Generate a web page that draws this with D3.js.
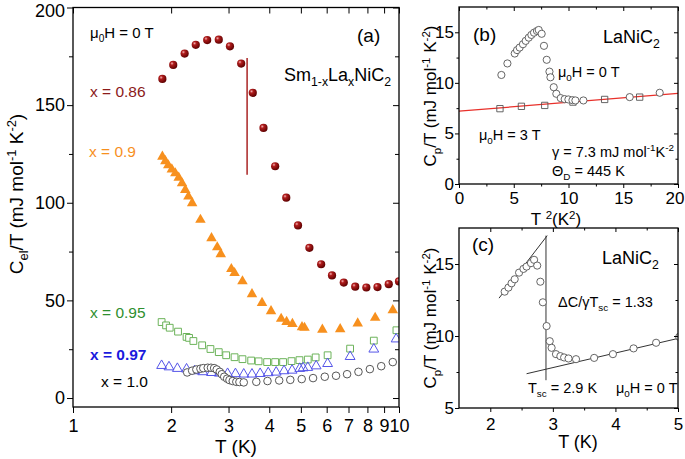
<html>
<head>
<script src="https://cdnjs.cloudflare.com/ajax/libs/d3/7.8.5/d3.min.js"></script>
<style>
  body { margin: 0; background: #fff; }
  svg { font-family: Arial, "Liberation Sans", sans-serif; }
</style>
</head>
<body>
<svg width="685" height="459"></svg>
<script>
// ---- panel (a): Sm1-xLaxNiC2, Cel/T vs T (log) ----
var a086T = [1.88, 2.03, 2.20, 2.38, 2.58, 2.80, 3.03, 3.28, 3.56, 3.84, 4.17, 4.51, 4.90, 5.31, 5.77, 6.23, 6.77, 7.34, 7.94, 8.59, 9.30, 10.0];
var a086 = [163.4, 170.6, 176.4, 180.9, 183.3, 183.5, 180.1, 171.3, 156.3, 138.3, 118.7, 102.6, 88.4, 76.9, 68.5, 62.8, 59.1, 57.0, 56.6, 56.8, 58.3, 59.7];
var a09T = [1.88, 1.92, 1.96, 2.01, 2.06, 2.11, 2.16, 2.21, 2.26, 2.32, 2.46, 2.66, 2.77, 2.84, 3.06, 3.13, 3.31, 3.54, 3.80, 4.05, 4.35, 4.52, 4.71, 5.04, 5.13, 5.82, 6.60, 7.47, 8.45, 9.57];
var a09 = [124.0, 121.7, 119.6, 117.5, 115.5, 113.3, 110.4, 107.0, 103.6, 100.2, 91.7, 82.3, 77.6, 74.1, 66.5, 64.4, 60.2, 53.6, 49.1, 44.9, 41.0, 39.4, 38.4, 36.7, 36.4, 35.4, 35.7, 38.6, 41.5, 45.4];
var a095T = [1.87, 1.93, 1.98, 2.10, 2.23, 2.27, 2.34, 2.49, 2.64, 2.80, 2.95, 3.13, 3.31, 3.52, 3.71, 3.94, 4.17, 4.41, 4.68, 4.95, 5.25, 5.55, 6.04, 7.08, 8.37, 9.82];
var a095 = [38.9, 37.2, 36.0, 34.0, 31.3, 30.8, 29.2, 27.0, 25.1, 23.5, 21.9, 20.9, 19.9, 19.2, 18.8, 18.4, 18.4, 18.4, 18.9, 19.4, 19.7, 20.8, 21.9, 25.3, 29.4, 34.7];
var a097T = [1.87, 1.97, 2.09, 2.23, 2.36, 2.50, 2.66, 2.81, 2.98, 3.15, 3.34, 3.54, 3.75, 3.97, 4.20, 4.44, 4.70, 4.96, 5.08, 5.25, 5.57, 6.04, 7.08, 8.37, 9.80];
var a097 = [17.0, 16.3, 15.5, 15.2, 14.3, 13.8, 13.4, 13.1, 12.9, 12.8, 12.6, 12.6, 12.9, 13.3, 13.6, 14.3, 14.6, 15.5, 15.8, 16.0, 16.8, 18.0, 21.6, 25.4, 30.6];
var a10T = [2.24, 2.32, 2.39, 2.46, 2.51, 2.59, 2.65, 2.71, 2.76, 2.82, 2.86, 2.91, 2.97, 3.02, 3.09, 3.17, 3.24, 3.34, 3.65, 3.95, 4.29, 4.64, 5.03, 5.45, 5.92, 6.41, 6.93, 7.51, 8.14, 8.82, 9.57];
var a10 = [13.1, 14.0, 14.6, 15.0, 15.3, 15.5, 15.5, 15.3, 14.6, 13.4, 12.2, 10.9, 9.9, 9.2, 8.7, 8.3, 8.2, 8.0, 8.3, 8.7, 9.0, 9.3, 9.7, 10.2, 10.9, 11.4, 12.2, 13.4, 14.8, 16.3, 18.4];
var aMarkT = [3.42, 3.42];
var aMark = [114.3, 174.1];
var aXTicks = [1, 2, 3, 4, 5, 6, 7, 8, 9, 10];
var aYTicks = [0, 50, 100, 150, 200];

// ---- panel (b): LaNiC2, Cp/T vs T^2 ----
var b0T2 = [3.87, 4.42, 5.09, 5.30, 5.54, 5.84, 6.09, 6.37, 6.61, 6.85, 7.12, 7.28, 7.55, 7.76, 8.01, 8.26, 8.35, 8.65, 8.89, 9.29, 9.65, 9.99, 10.36, 10.63, 11.36, 15.59, 18.33];
var b0 = [10.78, 11.92, 12.90, 13.24, 13.49, 13.82, 14.15, 14.47, 14.74, 14.96, 15.13, 15.23, 14.85, 13.66, 12.28, 11.11, 10.55, 9.57, 8.92, 8.49, 8.39, 8.36, 8.29, 8.26, 8.26, 8.59, 9.02];
var b3T2 = [3.74, 5.70, 7.83, 10.41, 13.3, 16.5];
var b3 = [7.45, 7.68, 7.77, 8.10, 8.36, 8.59];
var bFitT2 = [0, 20];
var bFit = [7.2, 8.96];
var bXTicks = [0, 5, 10, 15, 20];
var bYTicks = [0, 5, 10, 15];

// ---- panel (c): LaNiC2, Cp/T vs T ----
var cT = [2.23, 2.29, 2.34, 2.39, 2.46, 2.53, 2.58, 2.65, 2.70, 2.75, 2.80, 2.84, 2.90, 2.95, 2.98, 3.05, 3.12, 3.18, 3.25, 3.37, 3.66, 3.96, 4.29, 4.65, 5.02];
var cV = [13.08, 13.36, 13.66, 13.94, 14.40, 14.66, 14.82, 15.06, 15.29, 14.89, 13.77, 12.34, 10.69, 9.64, 9.18, 8.74, 8.60, 8.51, 8.44, 8.39, 8.48, 8.74, 9.14, 9.53, 9.94];
var cScT = [2.14, 2.91];
var cSc = [12.63, 16.97];
var cNT = [2.58, 4.99];
var cN = [7.38, 9.82];
var cTscT = [2.89, 2.89];
var cTsc = [6.93, 16.97];
var cXTicks = [2, 3, 4, 5];
var cYTicks = [5, 10, 15];

var svg = d3.select("svg");
var zip = function(a, b) { return a.map(function(v, i) { return [v, b[i]]; }); };

var defs = svg.append("defs");
var grad = defs.append("radialGradient").attr("id", "sphere")
    .attr("cx", "35%").attr("cy", "32%").attr("r", "70%");
grad.append("stop").attr("offset", "0%").attr("stop-color", "#f3b3b3");
grad.append("stop").attr("offset", "30%").attr("stop-color", "#b01c1c");
grad.append("stop").attr("offset", "100%").attr("stop-color", "#5c0000");

// text with sub/superscripts: parts = [[text, "n"|"sub"|"sup"], ...]
function rich(parent, x, y, parts, size, color, anchor, weight) {
    var t = parent.append("text").attr("x", x).attr("y", y)
        .attr("font-size", size).attr("fill", color || "#000")
        .attr("text-anchor", anchor || "start")
        .attr("font-weight", weight || "normal");
    var shift = 0;
    parts.forEach(function(p) {
        var mode = p[1] || "n";
        var target = mode == "sub" ? 0.28 * size : (mode == "sup" ? -0.38 * size : 0);
        t.append("tspan").attr("dy", target - shift)
            .attr("font-size", mode == "n" ? size : size * 0.68).text(p[0]);
        shift = target;
    });
    return t;
}

function frame(x, y, id) {
    var r = x.range(), s = y.range();
    defs.append("clipPath").attr("id", id).append("rect")
        .attr("x", r[0]).attr("y", s[1]).attr("width", r[1] - r[0]).attr("height", s[0] - s[1]);
    return svg.append("g").attr("clip-path", "url(#" + id + ")");
}

function axes(x, y, o) {
    var r = x.range(), s = y.range();
    var strip = function(g) { g.select(".domain").remove(); g.selectAll("line").attr("stroke", "#000").attr("stroke-width", 1); };
    // bottom (outward) with labels
    var bx = svg.append("g").attr("transform", "translate(0," + s[0] + ")")
        .call(d3.axisBottom(x).tickValues(o.xt).tickSize(o.maj).tickPadding(o.xpad).tickFormat(d3.format("d")))
        .call(strip).attr("font-size", o.fs).attr("font-family", null);
    svg.append("g").attr("transform", "translate(0," + s[0] + ")")
        .call(d3.axisBottom(x).tickValues(o.xm).tickSize(o.min).tickFormat("")).call(strip);
    // top (inward)
    svg.append("g").attr("transform", "translate(0," + s[1] + ")")
        .call(d3.axisBottom(x).tickValues(o.xt).tickSize(o.maj).tickFormat("")).call(strip);
    svg.append("g").attr("transform", "translate(0," + s[1] + ")")
        .call(d3.axisBottom(x).tickValues(o.xm).tickSize(o.min).tickFormat("")).call(strip);
    // left (outward) with labels
    var ly = svg.append("g").attr("transform", "translate(" + r[0] + ",0)")
        .call(d3.axisLeft(y).tickValues(o.yt).tickSize(o.maj).tickPadding(o.ypad).tickFormat(d3.format("d")))
        .call(strip).attr("font-size", o.fs).attr("font-family", null);
    svg.append("g").attr("transform", "translate(" + r[0] + ",0)")
        .call(d3.axisLeft(y).tickValues(o.ym).tickSize(o.min).tickFormat("")).call(strip);
    // right (inward)
    svg.append("g").attr("transform", "translate(" + r[1] + ",0)")
        .call(d3.axisLeft(y).tickValues(o.yt).tickSize(o.maj).tickFormat("")).call(strip);
    svg.append("g").attr("transform", "translate(" + r[1] + ",0)")
        .call(d3.axisLeft(y).tickValues(o.ym).tickSize(o.min).tickFormat("")).call(strip);
    svg.append("rect").attr("x", r[0]).attr("y", s[1]).attr("width", r[1] - r[0]).attr("height", s[0] - s[1])
        .attr("fill", "none").attr("stroke", "#000").attr("stroke-width", 1.3);
    return { x: bx, y: ly };
}

// =============== panel (a) ===============
var xa = d3.scaleLog().domain([1, 10]).range([73, 399]);
var ya = d3.scaleLinear().domain([-4.6, 200]).range([407, 7.5]);
var ga = frame(xa, ya, "clipA");
var line = d3.line();

ga.append("path").attr("d", line(zip(aMarkT, aMark).map(function(d) { return [xa(d[0]), ya(d[1])]; })))
    .attr("stroke", "#a31515").attr("stroke-width", 1.4).attr("fill", "none");

ga.selectAll(".sq").data(zip(a095T, a095)).enter().append("path")
    .attr("transform", function(d) { return "translate(" + xa(d[0]) + "," + ya(d[1]) + ")"; })
    .attr("d", d3.symbol(d3.symbolSquare, 46)).attr("fill", "#fff").attr("stroke", "#6cb35a").attr("stroke-width", 1);

ga.selectAll(".tb").data(zip(a097T, a097)).enter().append("path")
    .attr("transform", function(d) { return "translate(" + xa(d[0]) + "," + (ya(d[1]) + 0.8) + ")"; })
    .attr("d", d3.symbol(d3.symbolTriangle, 42)).attr("fill", "none").attr("stroke", "#5555e8").attr("stroke-width", 1);

ga.selectAll(".ck").data(zip(a10T, a10)).enter().append("circle")
    .attr("cx", function(d) { return xa(d[0]); }).attr("cy", function(d) { return ya(d[1]); })
    .attr("r", 3.8).attr("fill", "#fff").attr("stroke", "#444").attr("stroke-width", 0.9);

ga.selectAll(".to").data(zip(a09T, a09)).enter().append("path")
    .attr("transform", function(d) { return "translate(" + xa(d[0]) + "," + (ya(d[1]) + 0.8) + ")"; })
    .attr("d", d3.symbol(d3.symbolTriangle, 48)).attr("fill", "#f7901e");

ga.selectAll(".sp").data(zip(a086T, a086)).enter().append("circle")
    .attr("cx", function(d) { return xa(d[0]); }).attr("cy", function(d) { return ya(d[1]); })
    .attr("r", 4.1).attr("fill", "url(#sphere)");

var axA = axes(xa, ya, {
    xt: aXTicks, xm: [], yt: aYTicks, ym: [25, 75, 125, 175],
    maj: 6, min: 4, xpad: 6, ypad: 2, fs: 18
});
// top label sits against the picture edge
axA.y.selectAll(".tick text").filter(function(d) { return d == 200; }).attr("dy", "0.5em");

rich(svg, 90, 38, [["\u03bc"], ["0", "sub"], ["H = 0 T"]], 15);
rich(svg, 357, 42, [["(a)"]], 19);
rich(svg, 284, 81, [["Sm"], ["1-x", "sub"], ["La"], ["x", "sub"], ["NiC"], ["2", "sub"]], 18);
rich(svg, 90, 97, [["x = 0.86"]], 15.5, "#8b1a1a");
rich(svg, 89, 157, [["x = 0.9"]], 15.5, "#f7901e");
rich(svg, 90, 318, [["x = 0.95"]], 15.5, "#2f8f2f");
rich(svg, 90, 360, [["x = 0.97"]], 15.5, "#1a1add", "start", "bold");
rich(svg, 101, 387, [["x = 1.0"]], 15.5, "#000");
rich(svg, 236, 453, [["T (K)"]], 19, "#000", "middle");
rich(svg.append("g").attr("transform", "translate(23,194) rotate(-90)"), 0, 0,
    [["C"], ["el", "sub"], ["/T (mJ mol"], ["-1", "sup"], [" K"], ["-2", "sup"], [")"]], 19, "#000", "middle");

// =============== panel (b) ===============
var xb = d3.scaleLinear().domain([0, 20]).range([459, 678]);
var yb = d3.scaleLinear().domain([0, 17.5]).range([184, 7]);
var gb = frame(xb, yb, "clipB");

gb.append("path").attr("d", line(zip(bFitT2, bFit).map(function(d) { return [xb(d[0]), yb(d[1])]; })))
    .attr("stroke", "#e8302a").attr("stroke-width", 1.3).attr("fill", "none");
gb.selectAll(".bs").data(zip(b3T2, b3)).enter().append("path")
    .attr("transform", function(d) { return "translate(" + xb(d[0]) + "," + yb(d[1]) + ")"; })
    .attr("d", d3.symbol(d3.symbolSquare, 40)).attr("fill", "none").attr("stroke", "#555").attr("stroke-width", 0.9);
gb.selectAll(".bc").data(zip(b0T2, b0)).enter().append("circle")
    .attr("cx", function(d) { return xb(d[0]); }).attr("cy", function(d) { return yb(d[1]); })
    .attr("r", 3.6).attr("fill", "#fff").attr("stroke", "#555").attr("stroke-width", 0.9);

var axB = axes(xb, yb, {
    xt: bXTicks, xm: [2.5, 7.5, 12.5, 17.5], yt: bYTicks, ym: [2.5, 7.5, 12.5],
    maj: 4, min: 2.5, xpad: 4, ypad: 1, fs: 17
});
// last label sits against the picture edge
axB.x.selectAll(".tick text").filter(function(d) { return d == 20; }).attr("text-anchor", "end").attr("dx", 6);

rich(svg, 473, 41, [["(b)"]], 19);
rich(svg, 603, 43, [["LaNiC"], ["2", "sub"]], 18);
rich(svg, 558, 77, [["\u03bc"], ["0", "sub"], ["H = 0 T"]], 14.5);
rich(svg, 479, 140, [["\u03bc"], ["0", "sub"], ["H = 3 T"]], 14.5);
rich(svg, 552, 157, [["\u03b3 = 7.3 mJ mol"], ["-1", "sup"], ["K"], ["-2", "sup"]], 14.5);
rich(svg, 552, 176, [["\u0398"], ["D", "sub"], [" = 445 K"]], 14.5);
rich(svg, 556, 225, [["T "], ["2", "sup"], ["(K"], ["2", "sup"], [")"]], 17, "#000", "middle");
rich(svg.append("g").attr("transform", "translate(436,96) rotate(-90)"), 0, 0,
    [["C"], ["p", "sub"], ["/T (mJ mol"], ["-1", "sup"], [" K"], ["-2", "sup"], [")"]], 17, "#000", "middle");

// =============== panel (c) ===============
var xc = d3.scaleLinear().domain([1.5, 5]).range([459, 678]);
var yc = d3.scaleLinear().domain([5, 17.5]).range([408, 228]);
var gc = frame(xc, yc, "clipC");

[[cScT, cSc], [cNT, cN], [cTscT, cTsc]].forEach(function(l) {
    gc.append("path").attr("d", line(zip(l[0], l[1]).map(function(d) { return [xc(d[0]), yc(d[1])]; })))
        .attr("stroke", "#333").attr("stroke-width", 1).attr("fill", "none");
});
gc.selectAll(".cc").data(zip(cT, cV)).enter().append("circle")
    .attr("cx", function(d) { return xc(d[0]); }).attr("cy", function(d) { return yc(d[1]); })
    .attr("r", 3.6).attr("fill", "#fff").attr("stroke", "#555").attr("stroke-width", 0.9);

axes(xc, yc, {
    xt: cXTicks, xm: [2.5, 3.5, 4.5], yt: cYTicks, ym: [7.5, 12.5],
    maj: 4, min: 2.5, xpad: 6, ypad: 1, fs: 17
});

rich(svg, 472, 251, [["(c)"]], 19);
rich(svg, 602, 264, [["LaNiC"], ["2", "sub"]], 18);
rich(svg, 558, 307, [["\u0394C/\u03b3T"], ["sc", "sub"], [" = 1.33"]], 14.5);
rich(svg, 528, 393, [["T"], ["sc", "sub"], [" = 2.9 K"]], 14.5);
rich(svg, 616, 393, [["\u03bc"], ["0", "sub"], ["H = 0 T"]], 14.5);
rich(svg, 578, 448, [["T (K)"]], 18, "#000", "middle");
rich(svg.append("g").attr("transform", "translate(436,318) rotate(-90)"), 0, 0,
    [["C"], ["p", "sub"], ["/T (mJ mol"], ["-1", "sup"], [" K"], ["-2", "sup"], [")"]], 17, "#000", "middle");
</script>
</body>
</html>
